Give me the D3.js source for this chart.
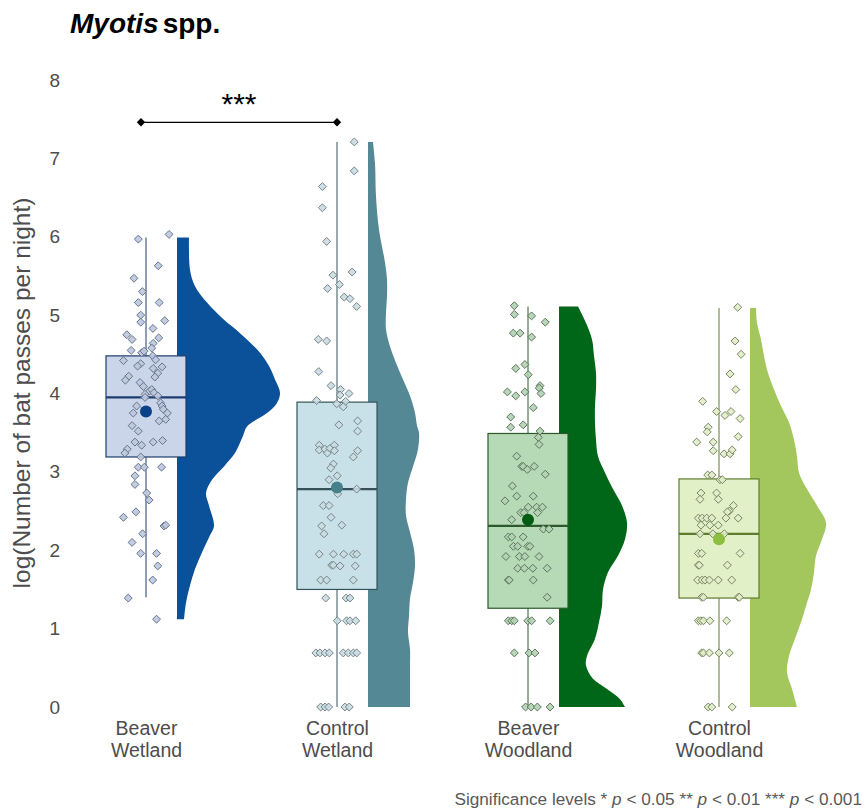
<!DOCTYPE html>
<html>
<head>
<meta charset="utf-8">
<script src="https://cdn.jsdelivr.net/npm/d3@7"></script>
<style>
  html, body { margin: 0; padding: 0; background: #ffffff; }
  svg { display: block; font-family: "Liberation Sans", Arial, sans-serif; }
</style>
</head>
<body>
<svg id="chart" width="867" height="810"></svg>
<script>
// ---- data ----------------------------------------------------------
const categories = ["Beaver Wetland", "Control Wetland", "Beaver Woodland", "Control Woodland"];
const categoryLines = [["Beaver", "Wetland"], ["Control", "Wetland"], ["Beaver", "Woodland"], ["Control", "Woodland"]];

// box-plot summaries on the log scale
const q1 = [3.19, 1.50, 1.26, 1.39];
const medians = [3.95, 2.78, 2.31, 2.21];
const q3 = [4.48, 3.89, 3.49, 2.91];
const whiskerLow = [1.40, 0, 0, 0];
const whiskerHigh = [5.99, 7.21, 5.11, 5.09];
const means = [3.77, 2.80, 2.39, 2.14];

// half-violin density estimates: [log value, density]
const densityBeaverWetland = [[5.99,.048],[5.58,.052],[5.37,.072],[5.16,.12],[4.94,.188],[4.77,.252],[4.52,.332],[4.35,.368],[4.18,.392],[4.01,.412],[3.88,.40],[3.75,.36],[3.58,.28],[3.46,.264],[3.24,.232],[3.07,.188],[2.90,.14],[2.73,.116],[2.57,.128],[2.31,.148],[2.19,.132],[1.97,.10],[1.76,.072],[1.55,.052],[1.33,.036],[1.12,.028]];
const densityControlWetland = [[7.21,.02],[6.94,.028],[6.51,.032],[6.09,.044],[5.67,.068],[5.45,.076],[5.24,.076],[5.03,.072],[4.82,.072],[4.60,.088],[4.39,.112],[4.18,.14],[3.97,.168],[3.75,.188],[3.59,.196],[3.50,.204],[3.29,.20],[3.07,.18],[2.86,.16],[2.65,.152],[2.44,.152],[2.23,.168],[2.01,.184],[1.80,.188],[1.59,.18],[1.38,.168],[1.16,.164],[0.95,.16],[0.74,.168],[0.53,.168],[0.31,.168],[0,.168]];
const densityBeaverWoodland = [[5.11,.076],[4.90,.108],[4.69,.132],[4.48,.14],[4.26,.148],[4.05,.148],[3.84,.144],[3.63,.144],[3.41,.148],[3.20,.156],[2.99,.184],[2.78,.216],[2.57,.252],[2.35,.272],[2.14,.264],[1.93,.236],[1.72,.196],[1.50,.176],[1.29,.172],[1.08,.16],[0.87,.144],[0.65,.112],[0.53,.108],[0.36,.136],[0.23,.192],[0.10,.244],[0,.264]];
const densityControlWoodland = [[5.09,.024],[4.90,.028],[4.69,.044],[4.48,.056],[4.26,.072],[4.05,.096],[3.84,.124],[3.63,.156],[3.41,.176],[3.20,.188],[2.99,.196],[2.78,.228],[2.57,.268],[2.35,.304],[2.14,.288],[1.93,.264],[1.72,.256],[1.50,.244],[1.29,.224],[1.08,.204],[0.87,.18],[0.65,.156],[0.44,.148],[0.23,.168],[0,.188]];

// nightly observations: [log value, horizontal jitter in -1..1]
const pointsBeaverWetland = [[5.97,-0.32],[6.03,0.96],[5.63,0.51],[5.47,-0.5],[5.30,-0.15],[5.16,-0.32],[5.16,0.55],[5.00,-0.22],[4.91,-0.22],[4.93,0.78],[4.83,0.29],[4.75,-0.80],[4.69,-0.58],[4.71,0.53],[4.64,0.30],[4.58,0.24],[4.55,-0.62],[4.52,-0.18],[4.54,-0.08],[4.48,0.28],[4.42,-0.94],[4.38,-0.22],[4.35,-0.35],[4.43,0.40],[4.32,0.30],[4.34,0.67],[4.26,0.49],[4.21,0.37],[4.22,-0.72],[4.17,-0.86],[4.14,-0.25],[4.09,-0.11],[4.03,0.14],[4.05,0.24],[4.01,0.33],[3.97,0.49],[3.99,-0.04],[3.95,-0.04],[3.88,0.61],[3.84,0.67],[3.80,0.72],[3.75,0.89],[3.67,0.82],[3.65,0.55],[3.84,-0.39],[3.75,-0.53],[3.59,-0.58],[3.52,-0.32],[3.38,-0.46],[3.34,-0.18],[3.38,0.30],[3.40,0.69],[3.29,-0.78],[3.24,-0.88],[3.19,-0.22],[3.06,-0.32],[3.06,-0.07],[3.06,0.65],[2.95,-0.46],[2.84,-0.46],[2.73,0.03],[2.64,0.13],[2.49,-0.42],[2.42,-0.94],[2.31,0.75],[2.32,0.82],[2.21,-0.14],[2.10,-0.58],[1.96,-0.22],[1.96,0.44],[1.80,0.49],[1.62,0.28],[1.39,-0.74],[1.12,0.44]];
const pointsControlWetland = [[7.21,0.72],[6.84,0.72],[6.64,-0.61],[6.37,-0.61],[5.94,-0.43],[5.51,-0.17],[5.55,0.63],[5.39,0.10],[5.34,-0.39],[5.23,0.30],[5.21,0.54],[5.11,0.82],[4.69,-0.78],[4.67,-0.43],[4.28,-0.76],[4.10,-0.25],[4.05,0.15],[3.98,0.13],[4.00,0.50],[3.91,-0.85],[3.87,-0.01],[3.90,0.36],[3.83,0.26],[3.60,0.08],[3.65,0.86],[3.52,0.86],[3.34,-0.74],[3.28,-0.74],[3.29,-0.5],[3.24,-0.40],[3.30,-0.29],[3.34,-0.11],[3.27,-0.11],[3.27,0.86],[3.19,0.68],[3.10,-0.15],[3.05,-0.26],[2.95,0.01],[2.90,-0.33],[2.72,0.03],[2.78,0.82],[2.57,-0.57],[2.57,-0.33],[2.42,-0.25],[2.31,-0.64],[2.32,0.20],[2.21,-0.54],[1.95,-0.74],[1.95,-0.15],[1.95,0.28],[1.95,0.68],[1.95,0.82],[1.81,-0.22],[1.81,-0.15],[1.80,0.13],[1.80,0.76],[1.62,-0.68],[1.62,-0.43],[1.62,0.68],[1.39,-0.47],[1.39,0.38],[1.39,0.54],[1.10,0.01],[1.10,0.40],[1.10,0.54],[1.10,0.78],[0.69,-0.88],[0.69,-0.71],[0.69,-0.5],[0.69,-0.32],[0.69,0.26],[0.69,0.47],[0.69,0.68],[0.69,0.82],[0,-0.68],[0,-0.5],[0,-0.35],[0,0.33],[0,0.51]];
const pointsBeaverWoodland = [[5.12,-0.57],[5.01,-0.57],[4.99,0.15],[4.91,0.72],[4.77,-0.61],[4.77,-0.33],[4.72,0.15],[4.37,-0.13],[4.32,-0.51],[4.24,0.01],[4.10,0.5],[4.07,0.47],[4.00,0.54],[4.02,-0.86],[3.97,-0.51],[4.02,-0.13],[3.82,0.22],[3.70,-0.72],[3.57,-0.72],[3.60,-0.2],[3.52,0.5],[3.44,0.43],[3.35,0.46],[3.20,-0.47],[3.07,-0.26],[3.07,-0.2],[3.03,-0.03],[3.07,0.26],[2.97,0.72],[2.82,-0.65],[2.69,-0.47],[2.69,0.22],[2.63,-0.96],[2.55,0.01],[2.55,0.36],[2.55,0.6],[2.48,-0.3],[2.48,-0.17],[2.48,0.4],[2.39,-0.68],[2.27,0.64],[2.27,0.88],[2.17,-0.82],[2.17,-0.68],[2.17,-0.2],[2.05,-0.61],[2.05,-0.43],[2.05,-0.01],[2.05,0.08],[1.92,-0.92],[1.92,-0.36],[1.92,-0.13],[1.92,0.46],[1.77,-0.43],[1.77,-0.15],[1.77,0.2],[1.77,0.8],[1.62,-0.82],[1.62,-0.78],[1.62,0.22],[1.40,0.8],[1.10,-0.82],[1.10,-0.68],[1.10,-0.57],[1.10,-0.01],[1.10,0.15],[1.10,0.92],[0.69,-0.57],[0.69,0.04],[0.69,0.29],[0,-0.1],[0,0.13],[0,0.39],[0,0.92]];
const pointsControlWoodland = [[5.10,0.78],[4.67,0.67],[4.50,0.92],[4.25,0.46],[4.05,0.7],[3.90,-0.68],[3.77,-0.1],[3.72,0.25],[3.77,0.5],[3.68,0.88],[3.57,-0.45],[3.51,-0.49],[3.45,0.8],[3.38,-0.93],[3.38,-0.24],[3.27,-0.24],[3.23,0.21],[3.23,0.46],[3.28,0.55],[2.96,-0.47],[2.96,-0.3],[2.90,0.04],[2.90,0.14],[2.73,-0.75],[2.73,-0.1],[2.65,-0.79],[2.65,-0.03],[2.57,0.6],[2.50,0.43],[2.49,0.35],[2.41,-0.86],[2.41,-0.7],[2.41,-0.51],[2.41,-0.3],[2.41,0.29],[2.41,0.8],[2.32,-0.75],[2.32,-0.38],[2.32,-0.03],[2.21,-0.79],[2.21,-0.26],[2.21,0.22],[1.96,-0.86],[1.96,-0.72],[1.96,0.88],[1.81,-0.86],[1.81,-0.82],[1.81,0.35],[1.62,-0.89],[1.62,-0.7],[1.62,-0.58],[1.62,-0.4],[1.62,-0.03],[1.62,0.53],[1.40,-0.72],[1.40,-0.65],[1.40,0.8],[1.40,0.85],[1.10,-0.86],[1.10,-0.76],[1.10,-0.65],[1.10,-0.38],[1.10,0.32],[0.69,-0.72],[0.69,-0.65],[0.69,-0.4],[0.69,0],[0.69,0.43],[0,-0.45],[0,-0.3],[0,0.55]];

const densities = [densityBeaverWetland, densityControlWetland, densityBeaverWoodland, densityControlWoodland];
const points = [pointsBeaverWetland, pointsControlWetland, pointsBeaverWoodland, pointsControlWoodland];

// pairwise comparison shown above the plot
const comparisonPair = ["Beaver Wetland", "Control Wetland"];
const comparisonLabel = "***";
const comparisonLevel = 7.46;

const yTicks = [0, 1, 2, 3, 4, 5, 6, 7, 8];

// ---- styling ------------------------------------------------------
const palette = [
  { density: "#0a519a", box: "#cbd5ea", line: "#1d3c6e", mean: "#0b4287", ptFill: "#bcc8df", ptStroke: "#66758c" },
  { density: "#538894", box: "#c8e1e8", line: "#35525a", mean: "#46808a", ptFill: "#c9dde2", ptStroke: "#778589" },
  { density: "#006618", box: "#b5dab5", line: "#2d5a2d", mean: "#005c12", ptFill: "#b3d1b3", ptStroke: "#5c755c" },
  { density: "#a3c75c", box: "#e1f0c6", line: "#5e7b2e", mean: "#8cbf3f", ptFill: "#e1edcb", ptStroke: "#78865e" }
];
const boxHalf = 40, densityOffset = 31, jitterWidth = 24;
const axisGrey = "#4d4d4d";

// ---- scales -------------------------------------------------------
const svg = d3.select("#chart");
const x = d3.scalePoint().domain(categories).range([146, 719]);
const y = d3.scaleLinear().domain([0, 8]).range([707, 80]);
const dScale = d3.scaleLinear().domain([0, 0.4]).range([0, 100]);

// ---- title --------------------------------------------------------
const title = svg.append("text").attr("x", 70).attr("y", 33)
  .attr("font-size", 28).attr("font-weight", "bold").attr("fill", "#000");
title.append("tspan").attr("font-style", "italic").text("Myotis");
title.append("tspan").attr("dx", 4).text("spp.");

// ---- y axis -------------------------------------------------------
const yAxis = svg.append("g").attr("transform", "translate(63,0)")
  .call(d3.axisLeft(y).tickValues(yTicks).tickSize(0).tickPadding(3).tickFormat(d3.format("d")));
yAxis.select(".domain").remove();
yAxis.selectAll("text").attr("font-size", 19).attr("fill", axisGrey)
  .attr("font-family", "Liberation Sans, Arial, sans-serif");

svg.append("text")
  .attr("transform", "translate(30,393) rotate(-90)")
  .attr("text-anchor", "middle")
  .attr("font-size", 24.5).attr("fill", axisGrey)
  .text("log(Number of bat passes per night)");

// ---- x axis labels ------------------------------------------------
const xAxis = svg.append("g").attr("transform", "translate(0,707)")
  .call(d3.axisBottom(x).tickSize(0).tickFormat(() => ""));
xAxis.select(".domain").remove();
xAxis.selectAll(".tick text").each(function (d, i) {
  const t = d3.select(this).attr("font-size", 19.5).attr("fill", axisGrey)
    .attr("font-family", "Liberation Sans, Arial, sans-serif").attr("y", 0).attr("dy", null);
  categoryLines[i].forEach((line, k) => {
    t.append("tspan").attr("x", 0).attr("y", 28 + k * 22).text(line);
  });
});

// ---- groups -------------------------------------------------------
const area = d3.area()
  .y(d => y(d[0]))
  .curve(d3.curveCatmullRom.alpha(0.5));
const diamond = d3.symbol().type(d3.symbolDiamond2).size(40);

categories.forEach((cat, i) => {
  const cx = x(cat);
  const col = palette[i];
  const g = svg.append("g");

  // half violin
  g.append("path")
    .datum(densities[i])
    .attr("d", area.x0(cx + densityOffset).x1(d => cx + densityOffset + dScale(d[1])))
    .attr("fill", col.density);

  // whisker
  g.append("line")
    .attr("x1", cx).attr("x2", cx)
    .attr("y1", y(whiskerLow[i])).attr("y2", y(whiskerHigh[i]))
    .attr("stroke", col.line).attr("stroke-width", 1);

  // box
  g.append("rect")
    .attr("x", cx - boxHalf).attr("width", boxHalf * 2)
    .attr("y", y(q3[i])).attr("height", y(q1[i]) - y(q3[i]))
    .attr("fill", col.box).attr("stroke", col.line).attr("stroke-width", 1.2);

  g.append("line")
    .attr("x1", cx - boxHalf).attr("x2", cx + boxHalf)
    .attr("y1", y(medians[i])).attr("y2", y(medians[i]))
    .attr("stroke", col.line).attr("stroke-width", 2.2);

  // jittered observations
  g.selectAll("path.pt").data(points[i]).join("path")
    .attr("class", "pt")
    .attr("transform", d => `translate(${cx + d[1] * jitterWidth},${y(d[0])})`)
    .attr("d", diamond)
    .attr("fill", col.ptFill).attr("fill-opacity", 0.9)
    .attr("stroke", col.ptStroke).attr("stroke-width", 1);

  // mean
  g.append("circle")
    .attr("cx", cx).attr("cy", y(means[i])).attr("r", 6)
    .attr("fill", col.mean);
});

// ---- significance bracket ----------------------------------------
const bx1 = x(comparisonPair[0]) - 5, bx2 = x(comparisonPair[1]);
const by = y(comparisonLevel);
svg.append("line").attr("x1", bx1).attr("x2", bx2).attr("y1", by).attr("y2", by)
  .attr("stroke", "#000").attr("stroke-width", 1.3);
[bx1, bx2].forEach(bx => {
  svg.append("path").attr("transform", `translate(${bx},${by})`)
    .attr("d", d3.symbol().type(d3.symbolDiamond2).size(45)).attr("fill", "#000");
});
svg.append("text").attr("x", (bx1 + bx2) / 2).attr("y", by - 8)
  .attr("text-anchor", "middle").attr("font-size", 30).attr("fill", "#000")
  .text(comparisonLabel);

// ---- footnote -----------------------------------------------------
const note = svg.append("text").attr("x", 862).attr("y", 805)
  .attr("text-anchor", "end").attr("font-size", 17.2).attr("fill", "#595959");
note.append("tspan").text("Significance levels * ");
note.append("tspan").attr("font-style", "italic").text("p");
note.append("tspan").text(" < 0.05 ** ");
note.append("tspan").attr("font-style", "italic").text("p");
note.append("tspan").text(" < 0.01 *** ");
note.append("tspan").attr("font-style", "italic").text("p");
note.append("tspan").text(" < 0.001");
</script>
</body>
</html>
